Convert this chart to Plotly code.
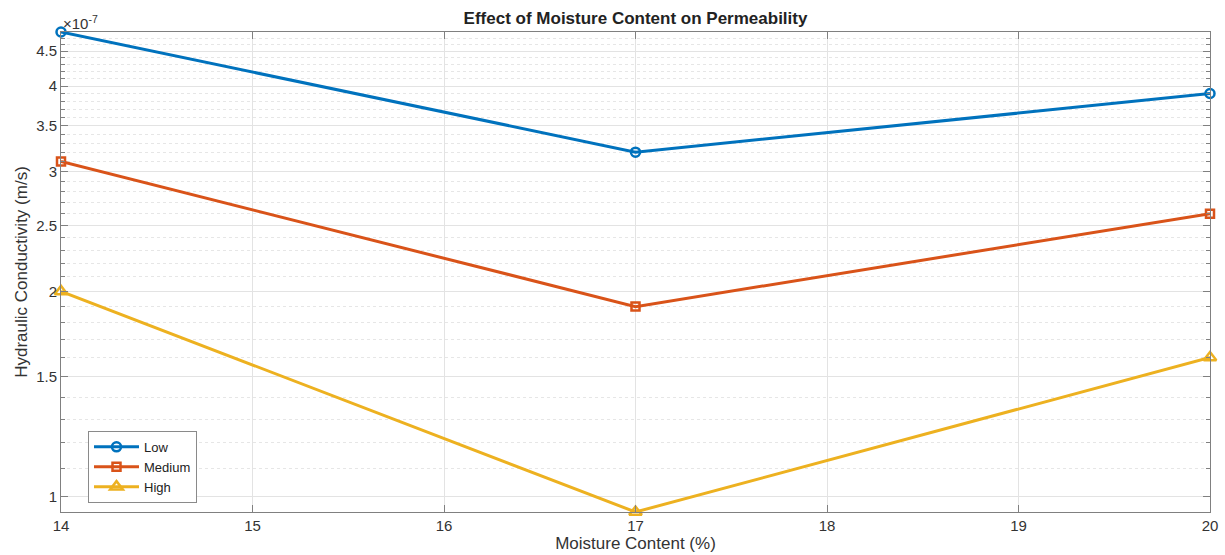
import math
import plotly.graph_objects as go

# Hydraulic conductivity (×1e-7 m/s) versus moisture content
moisture = [14, 17, 20]
low = [4.8, 3.2, 3.9]
medium = [3.1, 1.9, 2.6]
high = [2.0, 0.95, 1.6]
scale = 1e-7

y_major = [1, 1.5, 2, 2.5, 3, 3.5, 4, 4.5]
y_major_text = ["1", "1.5", "2", "2.5", "3", "3.5", "4", "4.5"]
y_minor = [round(0.9 + 0.1 * i, 1) for i in range(40)]
x_ticks = [14, 15, 16, 17, 18, 19, 20]

series = [
    ("Low", low, "#0072BD", "circle-open", 9),
    ("Medium", medium, "#D95319", "square-open", 8),
    ("High", high, "#EDB120", "triangle-up-open", 11),
]

fig = go.Figure()
for name, vals, color, symbol, size in series:
    fig.add_trace(go.Scatter(
        x=moisture, y=[v * scale for v in vals], name=name,
        mode="lines+markers",
        line=dict(color=color, width=3),
        marker=dict(symbol=symbol, size=size, color=color,
                    line=dict(color=color, width=2.5)),
        cliponaxis=False,
    ))

ymin = min(high) * scale
ymax = max(low) * scale

axis_color = "#808080"
font_color = "#333333"
fig.update_layout(
    width=1225, height=555,
    margin=dict(l=61, r=15, t=32, b=43),
    paper_bgcolor="white", plot_bgcolor="white",
    font=dict(family="Liberation Sans, Arial, sans-serif", size=15, color=font_color),
    title=dict(text="<b>Effect of Moisture Content on Permeability</b>",
               x=0.5188, xanchor="center",
               y=1 - 18 / 555, yanchor="middle",
               font=dict(size=17, color="#222222")),
    xaxis=dict(
        range=[14, 20], tickvals=x_ticks, automargin=False,
        showgrid=True, gridcolor="#e3e3e3", gridwidth=1,
        zeroline=False, showline=True, linecolor=axis_color, linewidth=1,
        mirror="ticks", ticks="inside", ticklen=7, tickcolor=axis_color,
        title=dict(text="Moisture Content (%)", font=dict(size=17), standoff=2),
        tickfont=dict(size=15),
    ),
    yaxis=dict(
        type="log", automargin=False,
        range=[math.log10(ymin), math.log10(ymax)],
        tickvals=[v * scale for v in y_major], ticktext=y_major_text,
        showgrid=True, gridcolor="#e3e3e3", gridwidth=1,
        zeroline=False, showline=True, linecolor=axis_color, linewidth=1,
        mirror="ticks", ticks="inside", ticklen=7, tickcolor=axis_color,
        minor=dict(tickvals=[v * scale for v in y_minor], ticks="inside",
                   ticklen=4, tickcolor=axis_color, showgrid=True,
                   gridcolor="#e6e6e6", griddash="dot", gridwidth=1),
        title=dict(text="Hydraulic Conductivity (m/s)", font=dict(size=17), standoff=4),
        tickfont=dict(size=15),
    ),
    legend=dict(
        x=0.0235, y=0.019, xanchor="left", yanchor="bottom",
        bgcolor="white", bordercolor="#8a8a8a", borderwidth=1,
        font=dict(size=13, color="#222222"),
        tracegroupgap=0, itemwidth=45,
    ),
    showlegend=True,
)

fig.add_annotation(
    text="×10<sup>-7</sup>", xref="paper", yref="paper",
    x=0, y=1, xanchor="left", yanchor="bottom", showarrow=False,
    font=dict(size=15, color=font_color), yshift=-2,
)

fig.write_html("out.html")
